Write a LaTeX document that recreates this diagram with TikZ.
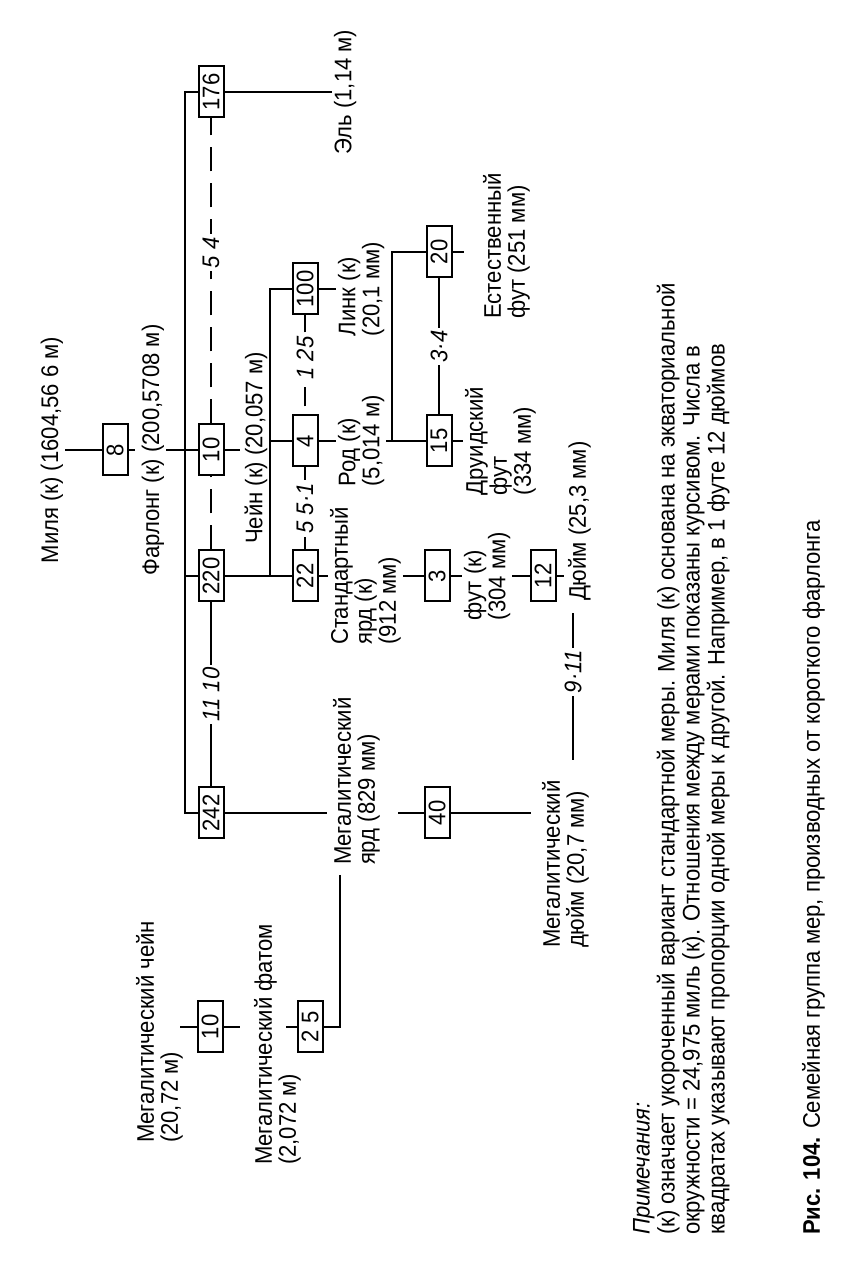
\documentclass[tikz,border=0pt]{standalone}
\usepackage{fontspec}
\setmainfont{Liberation Sans}[FakeStretch=0.92]
\tikzstyle{unit}=[rectangle, draw=black, line width=2pt, minimum width=51pt, minimum height=25pt, inner sep=0pt]
\tikzstyle{lbl}=[align=left, inner sep=1pt]
\tikzstyle{ratio}=[font=\fontsize{24}{24}\selectfont\itshape, fill=white, inner sep=3pt]
\tikzstyle{gap}=[dash pattern=on 24pt off 12pt]

\begin{document}
\begin{tikzpicture}[x=1pt, y=1pt, line width=2pt, font=\fontsize{24}{24}\selectfont]
\useasboundingbox (0,0) rectangle (847,1271);
\begin{scope}[rotate=90, transform shape]
% mile, furlong and the long bus
\node[lbl] (milya) at (821,-52) {Миля (к) (1604,56 6 м)};
\node[unit] (b8) at (821,-115) {8};
\node[lbl] (farlong) at (821,-153) {Фарлонг (к) (200,5708 м)};
\node[unit] (b242) at (458,-211) {242};
\node[unit] (b220) at (695,-211) {220};
\node[unit] (b10f) at (821,-211) {10};
\node[unit] (b176) at (1179,-211) {176};
\node[lbl, anchor=north] (el) at (1179,-332) {Эль (1,14 м)};
\coordinate (busL) at (458,-185);
\coordinate (busM) at (695,-185);
\coordinate (busR) at (1179,-185);
\draw (milya) -- (b8);
\draw (b8.south) -- ++(0,-6);
\draw (farlong) -- (b10f);
\draw (b10f.south) -- ++(0,-15);
\draw (b242) -- (busL) -- (busR) -- (b176);
\draw (b220) -- (busM);
\draw (b176) -- (el);
\draw (b242) -- node[ratio]{11 10} (b220);
\draw[gap] (b220) -- (b10f);
\draw[gap] (b10f) -- node[ratio, pos=0.56]{5 4} (b176);
% chain, rod, link
\node[lbl] (chejn) at (823,-256) {Чейн (к) (20,057 м)};
\coordinate (cL) at (695,-270);
\coordinate (c4) at (830,-270);
\coordinate (cR) at (982,-270);
\node[unit] (b22) at (695,-305) {22};
\node[unit] (b4) at (830,-305) {4};
\node[unit] (b100) at (982,-305) {100};
\node[ratio] (r125) at (913,-305) {1 25};
\draw (b220) -- (b22);
\draw (cL) -- (cR) -- (b100);
\draw (c4) -- (b4);
\draw (b22) -- node[ratio]{5 5·1} (b4);
\draw[dash pattern=on 19pt off 13pt, dash phase=-8pt] (b4) -- (r125);
\draw (r125) -- (b100);
\node[lbl, anchor=north] (stand) at (695,-328) {Стандартный\\ярд (к)\\(912 мм)};
\node[lbl, anchor=north] (rod) at (830,-336) {Род (к)\\(5,014 м)};
\node[lbl, anchor=north] (link) at (982,-336) {Линк (к)\\(20,1 мм)};
\draw (b22) -- (stand);
\draw (b4) -- (rod);
\draw (b100) -- (link);
% druid and natural foot
\node[unit] (b15) at (830,-439) {15};
\node[unit] (b20) at (1019,-439) {20};
\coordinate (rb1) at (830,-392);
\coordinate (rb2) at (1019,-392);
\draw (rod) -- (b15);
\draw (rb1) -- (rb2) -- (b20);
\draw (b15) -- node[ratio]{3·4} (b20);
\node[lbl, anchor=north] (druid) at (830,-463) {Друидский\\фут\\(334 мм)};
\node[lbl, anchor=north] (estes) at (1025,-481) {Естественный\\фут (251 мм)};
\draw (b15) -- (druid);
\draw (b20.south) -- ++(0,-11);
% foot and inch
\node[unit] (b3) at (695,-437) {3};
\node[lbl, anchor=north] (fut) at (695,-462) {фут (к)\\(304 мм)};
\node[unit] (b12) at (695,-543) {12};
\node[lbl, anchor=north west] (dyuim) at (668,-566) {Дюйм (25,3 мм)};
\draw (stand) -- (b3);
\draw (b3) -- (fut);
\draw (fut) -- (b12);
\draw (b12.south) -- ++(0,-7);
% megalithic measures
\node[lbl, anchor=north west] (myard) at (404,-331) {Мегалитический\\ярд (829 мм)};
\node[unit] (b40) at (458,-437) {40};
\node[lbl, anchor=north west] (mdin) at (321,-540) {Мегалитический\\дюйм (20,7 мм)};
\coordinate (my1) at (458,-327);
\coordinate (my2) at (458,-398);
\coordinate (my3) at (458,-531);
\draw (b242) -- (my1);
\draw (my2) -- (b40) -- (my3);
\coordinate (d1) at (511,-573);
\coordinate (d2) at (658,-573);
\draw (d1) -- node[ratio, pos=0.6]{9·11} (d2);
\node[unit] (b10m) at (244,-210) {10};
\node[unit] (b25) at (244,-310) {2 5};
\node[lbl, anchor=north west] (mchain) at (126,-134) {Мегалитический чейн\\(20,72 м)};
\node[lbl, anchor=north west] (mfath) at (104,-252) {Мегалитический фатом\\(2,072 м)};
\coordinate (myl) at (396,-340);
\coordinate (myc) at (244,-340);
\draw (myl) -- (myc) -- (b25);
\draw (b25.north) -- ++(0,11);
\draw (b10m.north) -- ++(0,17);
\draw (b10m.south) -- ++(0,-16);
% notes and caption
\node[lbl, anchor=north west, font=\fontsize{24}{25}\selectfont] (notes) at (34,-631)
  {\textit{Примечания:}\\
   (к) означает укороченный вариант стандартной меры. Миля (к) основана на экваториальной\\
   окружности = 24,975 миль (к). Отношения между мерами показаны курсивом. Числа в\\
   квадратах указывают пропорции одной меры к другой. Например, в 1 футе 12 дюймов};
\node[lbl, anchor=north west] (caption) at (34,-800)
  {\textbf{Рис. 104.} Семейная группа мер, производных от короткого фарлонга};
\end{scope}
\end{tikzpicture}
\end{document}
